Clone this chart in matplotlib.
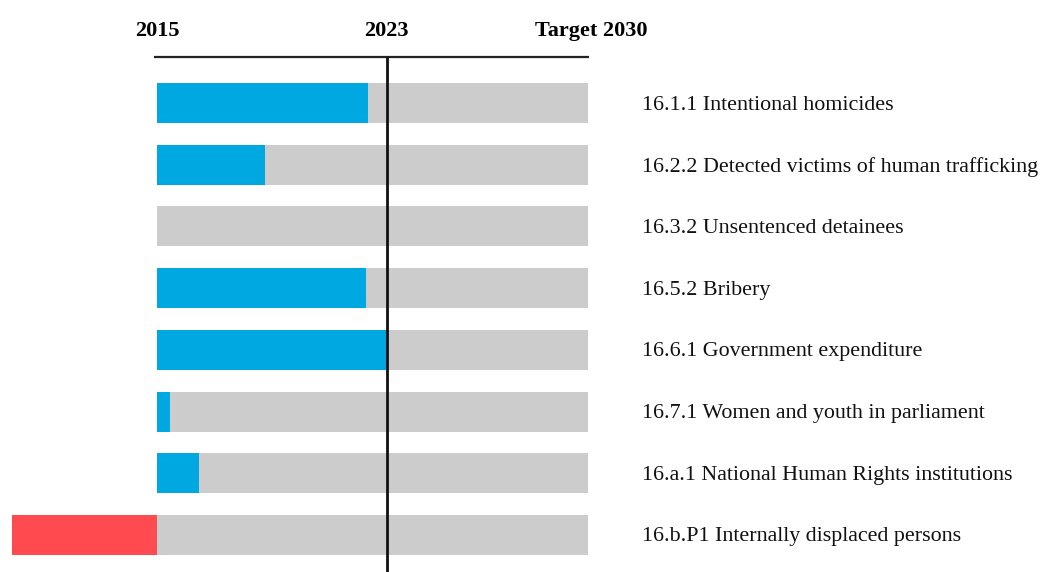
import matplotlib
matplotlib.use("Agg")
import matplotlib.pyplot as plt

# indicator labels, top to bottom
labels = [
    "16.1.1 Intentional homicides",
    "16.2.2 Detected victims of human trafficking",
    "16.3.2 Unsentenced detainees",
    "16.5.2 Bribery",
    "16.6.1 Government expenditure",
    "16.7.1 Women and youth in parliament",
    "16.a.1 National Human Rights institutions",
    "16.b.P1 Internally displaced persons",
]
# progress measured in years from 2015 (negative = regression)
progress = [7.34, 3.76, 0.0, 7.27, 8.0, 0.45, 1.46, -5.05]

year_start = 2015
year_now = 2023
year_target = 2030
tick_years = [2015, 2023, 2030]
tick_text = ["2015", "2023", "Target 2030"]

BLUE = "#00a8e1"
RED = "#ff4a50"
GRAY = "#cccccc"

plt.rcParams["font.family"] = ["Liberation Serif", "DejaVu Serif"]

fig = plt.figure(figsize=(10.41, 5.72), dpi=100)
ax = fig.add_axes([0, 0, 1, 1])
px_per_year = (588 - 157) / 15.0
ax.set_xlim(year_start - 157 / px_per_year, year_start + (1041 - 157) / px_per_year)
row_px = (535 - 103) / 7.0
ax.set_ylim((572 - 103) / row_px, -103 / row_px)
ax.axis("off")

rows = list(range(len(labels)))
h = 40 / row_px
ax.barh(rows, [year_target - year_start] * len(rows), left=year_start, height=h, color=GRAY, zorder=1)
for r, p in zip(rows, progress):
    if p > 0:
        ax.barh(r, p, left=year_start, height=h, color=BLUE, zorder=2)
    elif p < 0:
        ax.barh(r, p, left=year_start, height=h, color=RED, zorder=2)

top_y = (57 - 103) / row_px
ax.plot([year_start - 0.12, year_target + 0.05], [top_y, top_y], color="#222222", lw=1.6, zorder=3, solid_capstyle="butt")
ax.plot([year_now, year_now], [top_y, 8], color="#111111", lw=2, zorder=3, solid_capstyle="butt")

lab_y = (31 - 103) / row_px
offsets = [0, 0, 0.1]
for yr, t, o in zip(tick_years, tick_text, offsets):
    ax.text(yr + o, lab_y, t, ha="center", va="center", fontsize=16, fontweight="bold")

lab_x = year_start + (642 - 157) / px_per_year
for r, t in zip(rows, labels):
    ax.text(lab_x, r + 2 / row_px, t, ha="left", va="center", fontsize=15.8, color="#111111")

fig.savefig("out.png", dpi=100)
